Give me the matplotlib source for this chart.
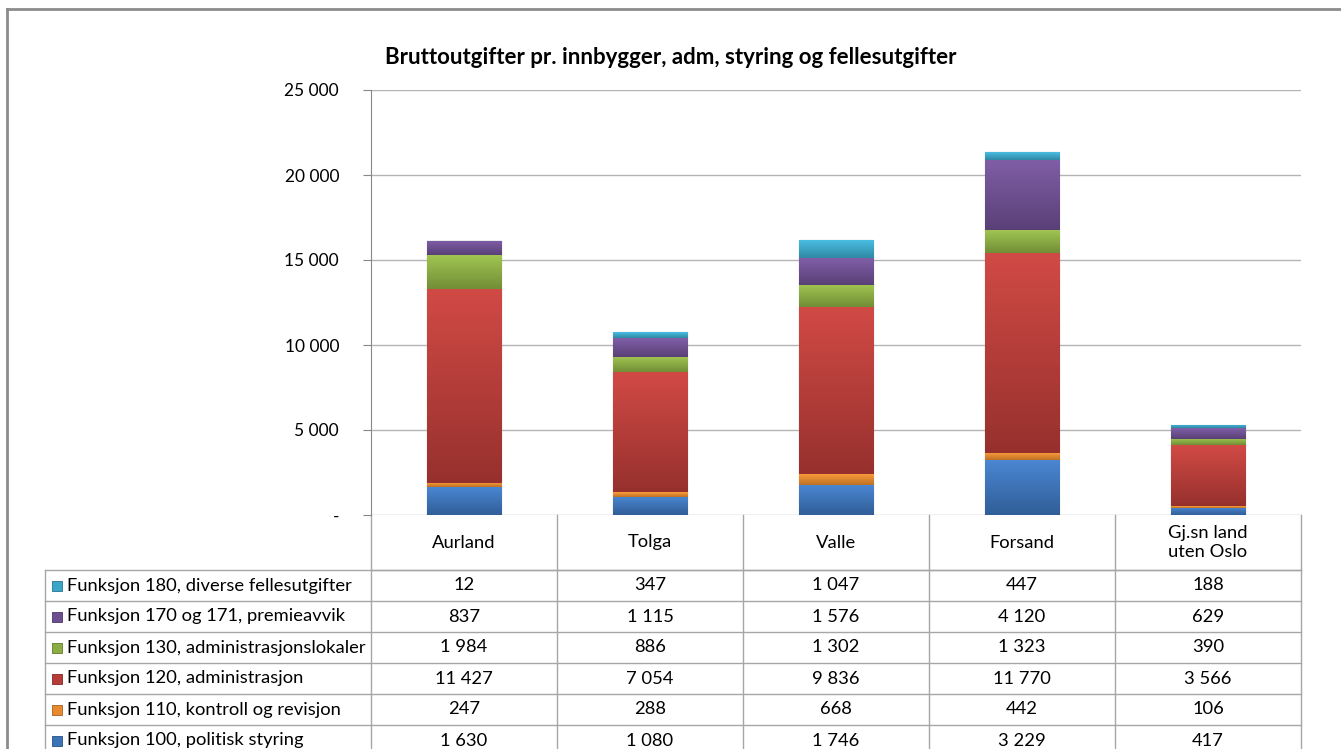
import numpy as np
import matplotlib.pyplot as plt
import matplotlib.colors as mcolors

plt.rcParams['font.family'] = ['Lato', 'DejaVu Sans']

# data
kommuner = ['Aurland', 'Tolga', 'Valle', 'Forsand', 'Gj.sn land\nuten Oslo']
serier = ['Funksjon 100, politisk styring',
          'Funksjon 110, kontroll og revisjon',
          'Funksjon 120, administrasjon',
          'Funksjon 130, administrasjonslokaler',
          'Funksjon 170 og 171, premieavvik',
          'Funksjon 180, diverse fellesutgifter']
f100 = [1630, 1080, 1746, 3229, 417]
f110 = [247, 288, 668, 442, 106]
f120 = [11427, 7054, 9836, 11770, 3566]
f130 = [1984, 886, 1302, 1323, 390]
f170 = [837, 1115, 1576, 4120, 629]
f180 = [12, 347, 1047, 447, 188]
verdier = [f100, f110, f120, f130, f170, f180]
farger = ['#3b73b9', '#e8892e', '#b83b37', '#8bad42', '#6d4e91', '#3aa6c8']
yticks = [0, 5000, 10000, 15000, 20000, 25000]

W, H = 1341, 749
fig = plt.figure(figsize=(W / 100, H / 100), dpi=100)

# layout in pixels
ax_l, ax_r, ax_t, ax_b = 371, 1301, 90, 515
ax = fig.add_axes([ax_l / W, 1 - ax_b / H, (ax_r - ax_l) / W, (ax_b - ax_t) / H])


def fmt(v):
    return f"{v:,}".replace(",", " ")


x = np.arange(len(kommuner))
bunn = np.zeros(len(kommuner))
for vals, farge in zip(verdier, farger):
    c = np.array(mcolors.to_rgb(farge))
    dark = c * 0.72
    bars = ax.bar(x, vals, width=0.4, bottom=bunn, color=farge,
                  edgecolor=mcolors.to_hex(dark), linewidth=0.8, zorder=3)
    light = np.clip(c * 1.08 + 0.04, 0, 1)
    grad = np.linspace(0, 1, 64)[:, None, None]
    img = light * (1 - grad) + (c * 0.82) * grad
    for b in bars:
        if b.get_height() <= 0:
            continue
        im = ax.imshow(img, extent=[b.get_x(), b.get_x() + b.get_width(),
                                    b.get_y(), b.get_y() + b.get_height()],
                       aspect='auto', origin='upper', zorder=3.5)
        im.set_clip_path(b)
    bunn += np.array(vals)

ax.set_xlim(-0.5, len(kommuner) - 0.5)
ax.set_ylim(0, 25000)
ax.set_yticks(yticks)
ax.set_yticklabels(['-' if t == 0 else fmt(t) for t in yticks], fontsize=12.5)
ax.set_xticks([])
ax.tick_params(axis='y', length=6, color='#888888', pad=17)
ax.grid(axis='y', color='#b4b4b4', linewidth=1, zorder=0)
for s in ['top', 'right', 'bottom']:
    ax.spines[s].set_visible(False)
ax.spines['left'].set_color('#888888')
ax.set_facecolor('none')

fig.text(671 / W, 1 - 58 / H, 'Bruttoutgifter pr. innbygger, adm, styring og fellesutgifter',
         ha='center', va='center', fontsize=16, fontweight='bold')

# overlay for table and frame, pixel coords
ov = fig.add_axes([0, 0, 1, 1], zorder=-1)
ov.set_xlim(0, W)
ov.set_ylim(H, 0)
ov.axis('off')

linje = '#a6a6a6'
kol_b = (ax_r - ax_l) / len(kommuner)
header_t, header_b, rad_h, tab_l = ax_b, 570, 31, 45
n_rader = len(serier)
tab_bunn = header_b + n_rader * rad_h
fs = 13.2

# header row borders
ov.plot([ax_l, ax_r], [header_b, header_b], color=linje, lw=1)
for i in range(len(kommuner) + 1):
    xx = ax_l + i * kol_b
    ov.plot([xx, xx], [header_t, tab_bunn], color=linje, lw=1)
    if i < len(kommuner):
        ov.text(xx + kol_b / 2, (header_t + header_b) / 2, kommuner[i],
                ha='center', va='center', fontsize=fs, linespacing=1.25)
ov.plot([tab_l, tab_l], [header_b, tab_bunn], color=linje, lw=1)

for r in range(n_rader):
    s = n_rader - 1 - r
    y0 = header_b + r * rad_h
    ov.plot([tab_l, ax_r], [y0 + rad_h, y0 + rad_h], color=linje, lw=1)
    if r == 0:
        ov.plot([tab_l, ax_r], [y0, y0], color=linje, lw=1)
    yc = y0 + rad_h / 2
    ov.scatter([57], [yc], marker='s', s=50, color=farger[s],
               edgecolor=mcolors.to_hex(np.array(mcolors.to_rgb(farger[s])) * 0.7), lw=0.6)
    ov.text(67, yc, serier[s], ha='left', va='center', fontsize=fs)
    for i in range(len(kommuner)):
        ov.text(ax_l + i * kol_b + kol_b / 2, yc, fmt(verdier[s][i]),
                ha='center', va='center', fontsize=fs)

# outer frame
ov.plot([7, W], [9, 9], color='#8c8c8c', lw=2)
ov.plot([7, 7], [9, H], color='#8c8c8c', lw=2)

fig.savefig('out.png', dpi=100, facecolor='white')
